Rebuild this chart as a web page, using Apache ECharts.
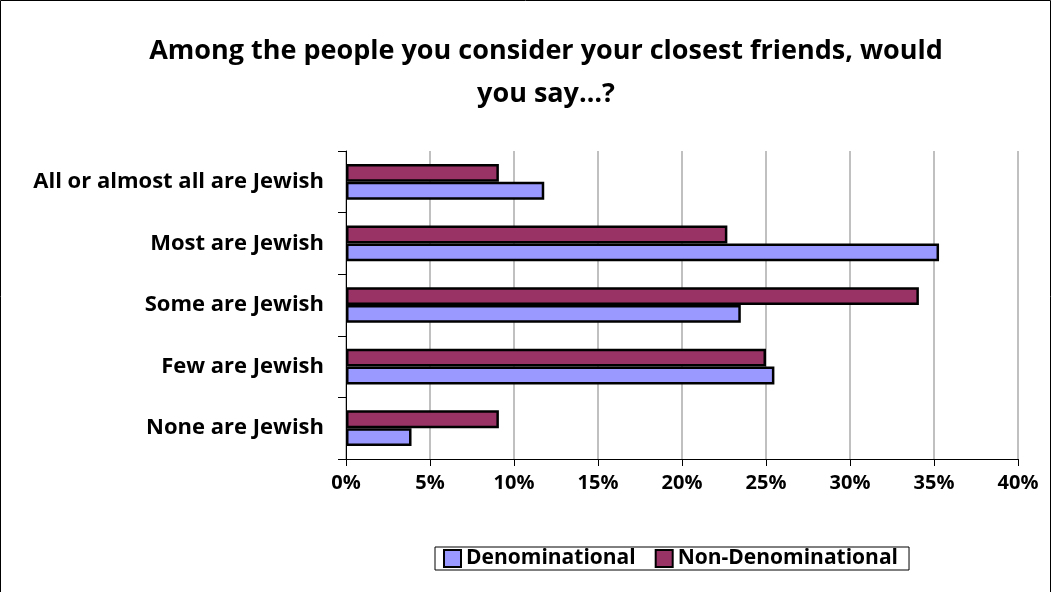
<!DOCTYPE html>
<html><head><meta charset="utf-8">
<script src="https://cdn.jsdelivr.net/npm/echarts@6/dist/echarts.min.js"></script>
<style>html,body{margin:0;padding:0;background:#fff}#c{width:1052px;height:592px}</style>
</head><body><div id="c"></div>
<script>
const categories = ["All or almost all are Jewish","Most are Jewish","Some are Jewish","Few are Jewish","None are Jewish"];
const denominational = [11.8, 35.3, 23.5, 25.5, 3.9];
const nonDenominational = [9.1, 22.7, 34.1, 25.0, 9.1];
const xTicks = [0,5,10,15,20,25,30,35,40];
const FONT = "Open Sans";
const chart = echarts.init(document.getElementById('c'));
chart.setOption({
  animation:false,
  backgroundColor:'#fff',
  title:{text:"Among the people you consider your closest friends, would\nyou say…?",left:541,top:25,textAlign:'center',
    textStyle:{fontFamily:FONT,fontWeight:'bold',fontSize:27,lineHeight:43,color:'#000'}},
  graphic:[{type:'rect',shape:{x:0.5,y:0.5,width:1050,height:620},style:{fill:'none',stroke:'#000',lineWidth:1},silent:true}],
  legend:{data:["Denominational","Non-Denominational"],left:435,top:547,icon:'rect',itemWidth:17,itemHeight:17,itemGap:19,
    padding:[1,11,1,8],borderColor:'#000',borderWidth:1,
    textStyle:{fontFamily:FONT,fontWeight:'bold',fontSize:21,color:'#000'},
    itemStyle:{borderColor:'#000',borderWidth:2}},
  grid:{left:346,right:34,top:151,bottom:133,containLabel:false},
  xAxis:{type:'value',min:0,max:40,interval:5,
    axisLine:{show:true,lineStyle:{color:'#000',width:1}},
    axisTick:{show:true,length:7,inside:false,lineStyle:{color:'#000'}},
    splitLine:{show:true,lineStyle:{color:'#c0c0c0',width:2}},
    axisLabel:{formatter:v=>xTicks.includes(v)?v+'%':'',fontFamily:FONT,fontWeight:'bold',fontSize:20,color:'#000',margin:14}},
  yAxis:{type:'category',data:categories,inverse:true,
    axisLine:{show:true,lineStyle:{color:'#000',width:1}},
    axisTick:{show:true,length:8,lineStyle:{color:'#000'}},
    axisLabel:{fontFamily:FONT,fontWeight:'bold',fontSize:22,color:'#000',margin:22}},
  series:[
    {name:"Non-Denominational",type:'bar',data:nonDenominational,barGap:'0%',barCategoryGap:'42%',
      itemStyle:{color:'#993366',borderColor:'#000',borderWidth:2.5}},
    {name:"Denominational",type:'bar',data:denominational,barGap:'0%',barCategoryGap:'42%',
      itemStyle:{color:'#9999FF',borderColor:'#000',borderWidth:2.5}}
  ]
});
</script></body></html>
